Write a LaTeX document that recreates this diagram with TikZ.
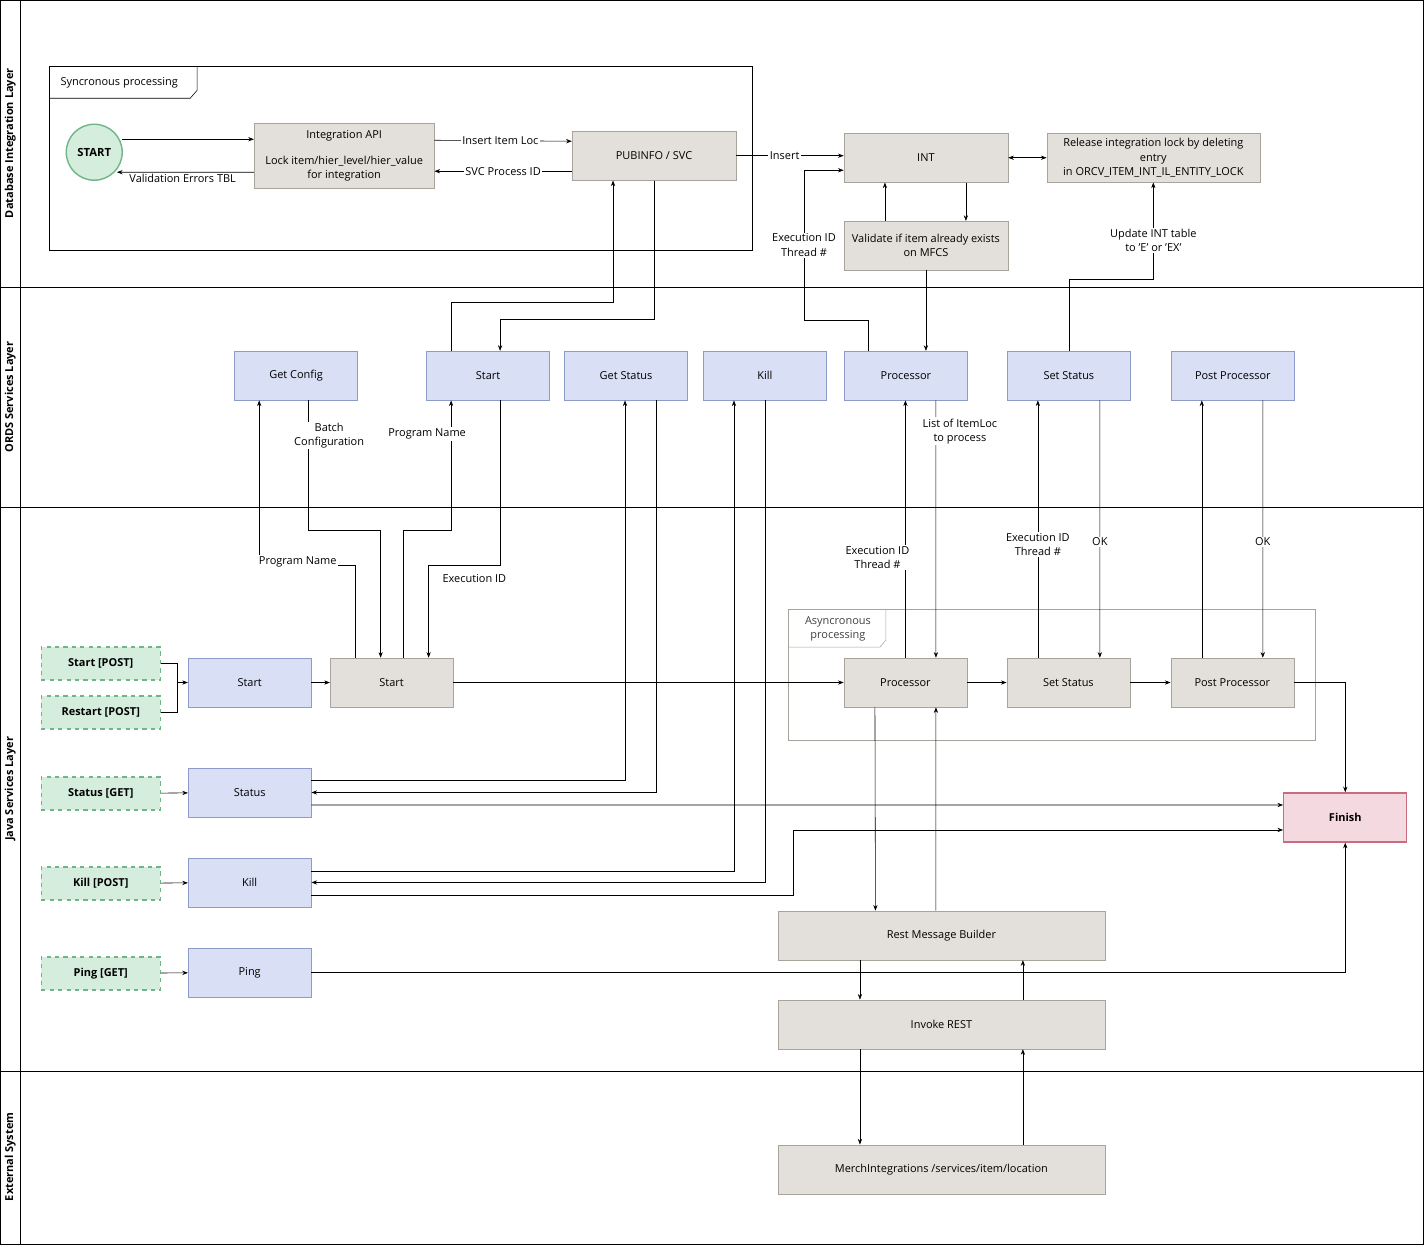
\documentclass[tikz,border=0pt]{standalone}
\usepackage{fontspec}
\setmainfont{Open Sans}
\usetikzlibrary{arrows.meta, calc, positioning}
\definecolor{grayfill}{HTML}{E3E0DB}
\definecolor{graydraw}{HTML}{A8A39D}
\definecolor{bluefill}{HTML}{D9DFF5}
\definecolor{bluedraw}{HTML}{8E9AC8}
\definecolor{greenfill}{HTML}{D5EDDD}
\definecolor{greendraw}{HTML}{6FB588}
\definecolor{pinkfill}{HTML}{F5D9E0}
\definecolor{pinkdraw}{HTML}{C86C80}
\tikzset{
    x=0.025cm, y=-0.025cm, line width=0.5pt,
    font=\fontsize{7.8}{10}\selectfont,
    arr/.style = {-{Stealth[length=4pt,width=3pt]}},
    box/.style = {rectangle, draw, align=center, minimum width=3.075cm, minimum height=1.225cm, inner sep=1pt},
    graybox/.style = {box, fill=grayfill, draw=graydraw},
    bluebox/.style = {box, fill=bluefill, draw=bluedraw},
    trigger/.style = {rectangle, draw=greendraw, fill=greenfill, dashed, line width=1pt, minimum width=2.975cm, minimum height=0.825cm, font=\fontsize{7.8}{10}\selectfont\bfseries},
    lbl/.style = {fill=white, inner sep=1pt, align=center},
    lane/.style = {rotate=90, font=\fontsize{7.8}{10}\selectfont\bfseries}
}
\begin{document}
\begin{tikzpicture}
    % lanes
    \draw (0,0) rectangle (1424,1244);
    \draw (20,0) -- (20,1244);
    \draw (0,287) -- (1424,287);
    \draw (0,507) -- (1424,507);
    \draw (0,1071) -- (1424,1071);
    \node[lane] (l1) at (10,143) {Database Integration Layer};
    \node[lane] (l2) at (10,397) {ORDS Services Layer};
    \node[lane] (l3) at (10,789) {Java Services Layer};
    \node[lane] (l4) at (10,1157) {External System};

    % frames
    \draw (49,66) rectangle (752,250);
    \draw (49,98) -- (190,98) -- (197,90) -- (197,66);
    \node (synctab) at (119,83) {Syncronous processing};
    \draw[graydraw] (788,609) rectangle (1315,740);
    \draw[graydraw] (788,647) -- (880,647) -- (886,640) -- (886,609);
    \node[align=center, text=black!75] (asynctab) at (838,629) {Asyncronous\\processing};

    % database layer
    \node[circle, draw=greendraw, fill=greenfill, line width=1pt, minimum size=1.4cm, font=\fontsize{8}{10}\selectfont\bfseries] (start) at (94,152) {START};
    \node[graybox, minimum width=4.5cm, minimum height=1.625cm] (iapi) at (344,155.5) {Integration API\\[8pt]Lock item/hier\_level/hier\_value\\for integration};
    \node[graybox, minimum width=4.1cm] (pub) at (654,155.5) {PUBINFO / SVC};
    \node[graybox, minimum width=4.1cm] (int) at (926,157.5) {INT};
    \node[graybox, minimum width=5.325cm] (rel) at (1153.5,157.5) {Release integration lock by deleting\\entry\\in ORCV\_ITEM\_INT\_IL\_ENTITY\_LOCK};
    \node[graybox, minimum width=4.1cm] (val) at (926,245.5) {Validate if item already exists\\on MFCS};

    % ORDS layer
    \node[bluebox] (gc) at (296,375.5) {Get Config};
    \node[bluebox] (os) at (488,375.5) {Start};
    \node[bluebox] (ogs) at (626,375.5) {Get Status};
    \node[bluebox] (ok) at (765,375.5) {Kill};
    \node[bluebox] (op) at (906,375.5) {Processor};
    \node[bluebox] (oss) at (1069,375.5) {Set Status};
    \node[bluebox] (opp) at (1233,375.5) {Post Processor};

    % java layer
    \node[trigger] (sp) at (100.5,663.5) {Start [POST]};
    \node[trigger] (rp) at (100.5,712.5) {Restart [POST]};
    \node[trigger] (stg) at (100.5,793.5) {Status [GET]};
    \node[trigger] (kp) at (100.5,883.5) {Kill [POST]};
    \node[trigger] (pg) at (100.5,973.5) {Ping [GET]};
    \node[bluebox] (js) at (249.5,682.5) {Start};
    \node[bluebox] (jst) at (249.5,792.5) {Status};
    \node[bluebox] (jk) at (249.5,882.5) {Kill};
    \node[bluebox] (jp) at (249.5,972.5) {Ping};
    \node[graybox] (gs) at (391.5,682.5) {Start};
    \node[graybox] (ap) at (905.5,682.5) {Processor};
    \node[graybox] (ass) at (1068.5,682.5) {Set Status};
    \node[graybox] (app) at (1232.5,682.5) {Post Processor};
    \node[box, fill=pinkfill, draw=pinkdraw, line width=1pt, font=\fontsize{7.8}{10}\selectfont\bfseries] (fin) at (1345.5,817.5) {Finish};
    \node[graybox, minimum width=8.175cm] (rmb) at (941.5,935.5) {Rest Message Builder};
    \node[graybox, minimum width=8.175cm] (inv) at (941.5,1024.5) {Invoke REST};

    % external
    \node[graybox, minimum width=8.175cm] (merch) at (941.5,1169.5) {MerchIntegrations /services/item/location};

    % database connectors
    \draw[arr] ($(start.east)+(-1,-13)$) -- ($(iapi.west)+(0,-16.5)$);
    \draw[arr] ($(iapi.west)+(0,16.5)$) -- ($(start.east)+(-6,20)$) node[lbl, pos=.52, below=0pt] {Validation Errors TBL};
    \draw[arr] ($(iapi.east)+(0,-15.5)$) -- ($(pub.west)+(0,-14.5)$) node[lbl, pos=.48] {Insert Item Loc};
    \draw[arr] ($(pub.west)+(0,15.5)$) -- ($(iapi.east)+(0,15.5)$) node[lbl, pos=.5] {SVC Process ID};
    \draw[arr] (pub.east) -- (pub.east -| int.west) node[lbl, pos=.45] {Insert};
    \draw[{Stealth[length=4pt,width=3pt]}-{Stealth[length=4pt,width=3pt]}] (int.east) -- (rel.west);
    \draw[arr] ($(val.north)+(-41,0)$) -- ($(int.south)+(-41,0)$);
    \draw[arr] ($(int.south)+(40,0)$) -- ($(val.north)+(40,0)$);
    \draw[arr] (val.south) -- (val.south |- op.north);
    \draw[arr] ($(op.north)+(-38,0)$) -- ++(0,-31) -- ++(-64,0) |- ($(int.west)+(0,12.5)$) node[lbl, pos=.25] {Execution ID\\Thread \#};
    \draw[arr] (oss.north) -- ++(0,-72) -| (rel.south) node[lbl, pos=.7] {Update INT table\\to 'E' or 'EX'};
    \draw[arr] ($(os.north)+(-37,0)$) -- ++(0,-49) -| ($(pub.south)+(-41,0)$);
    \draw[arr] (pub.south) -- ++(0,139) -| ($(os.north)+(12,0)$);

    % ORDS / java connectors
    \draw[arr] ($(gs.north)+(-36,0)$) -- ++(0,-93) -| ($(gc.south)+(-37,0)$) node[lbl, pos=.3, yshift=2pt] {Program Name};
    \draw[arr] ($(gc.south)+(12,0)$) -- ++(0,130) node[lbl, pos=.27, xshift=0.525cm] {Batch\\Configuration} -| ($(gs.north)+(-11,0)$);
    \draw[arr] ($(gs.north)+(12,0)$) -- ++(0,-128) -| ($(os.south)+(-37,0)$) node[lbl, pos=.87, xshift=-0.6cm] {Program Name};
    \draw[arr] ($(os.south)+(12,0)$) -- ++(0,165) -| ($(gs.north)+(37,0)$) node[lbl, pos=.18, below=5pt] {Execution ID};
    \draw (sp.east) -- ++(16,0) |- (rp.east);
    \draw[arr] ($(sp.east)+(16,19)$) -- (js.west);
    \draw[arr] (js) -- (gs);
    \draw[arr] (gs) -- (ap);
    \draw[arr] (ap) -- (ass);
    \draw[arr] (ass) -- (app);
    \draw[arr] (app.east) -| (fin.north);
    \draw[arr] ($(op.south)+(30,0)$) -- ($(ap.north)+(30.5,0)$) node[lbl, pos=.12, xshift=0.6cm] {List of ItemLoc\\to process};
    \draw[arr] (ap.north) -- (ap.north |- op.south) node[lbl, pos=.39, xshift=-0.7cm] {Execution ID\\Thread \#};
    \draw[arr] ($(ass.north)+(-30.5,0)$) -- ($(oss.south)+(-31,0)$) node[lbl, pos=.44] {Execution ID\\Thread \#};
    \draw[arr] ($(oss.south)+(31,0)$) -- ($(ass.north)+(31.5,0)$) node[lbl, pos=.55] {OK};
    \draw[arr] ($(app.north)+(-30.5,0)$) -- ($(opp.south)+(-31,0)$);
    \draw[arr] ($(opp.south)+(30,0)$) -- ($(app.north)+(30.5,0)$) node[lbl, pos=.55] {OK};
    \draw[arr] ($(jst.east)+(0,-12.5)$) -| ($(ogs.south)+(-1,0)$);
    \draw[arr] ($(ogs.south)+(30,0)$) |- (jst.east);
    \draw[arr] ($(jst.east)+(0,12.5)$) -- ($(fin.west)+(0,-12.5)$);
    \draw[arr] ($(jk.east)+(0,-11.5)$) -| ($(ok.south)+(-31,0)$);
    \draw[arr] (ok.south) |- (jk.east);
    \draw[arr] ($(jk.east)+(0,12.5)$) -- ++(482,0) |- ($(fin.west)+(0,12.5)$);
    \draw[arr] (jp.east) -| (fin.south);
    \draw[arr] (stg) -- (jst);
    \draw[arr] (kp) -- (jk);
    \draw[arr] (pg) -- (jp);

    % rest chain
    \draw[arr] ($(ap.south)+(-30.5,0)$) -- ($(rmb.north)+(-66,0)$);
    \draw[arr] ($(rmb.north)+(-5.5,0)$) -- ($(ap.south)+(30.5,0)$);
    \draw[arr] ($(rmb.south)+(-81.5,0)$) -- ($(inv.north)+(-81.5,0)$);
    \draw[arr] ($(inv.north)+(81.5,0)$) -- ($(rmb.south)+(81.5,0)$);
    \draw[arr] ($(inv.south)+(-81.5,0)$) -- ($(merch.north)+(-81.5,0)$);
    \draw[arr] ($(merch.north)+(81.5,0)$) -- ($(inv.south)+(81.5,0)$);
\end{tikzpicture}
\end{document}
